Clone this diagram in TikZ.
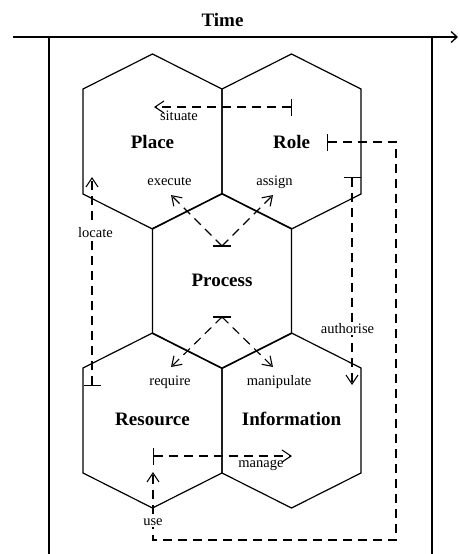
\documentclass[tikz,border=0pt]{standalone}
\usepackage{fontspec}
\setmainfont{Liberation Serif}
\usetikzlibrary{arrows.meta}
\tikzset{
  cellname/.style={font=\fontsize{19}{22}\selectfont\bfseries, anchor=base, inner sep=0pt},
  linkname/.style={font=\fontsize{14.5}{17}\selectfont, anchor=base, inner sep=1.5pt},
  cutname/.style={linkname, fill=white},
  link/.style={line width=1.1pt, dash pattern=on 9pt off 6pt,
    -{Straight Barb[length=9pt,width=12pt]}},
  barlink/.style={link, {Bar[width=17pt]}-{Straight Barb[length=9pt,width=12pt]}},
  frame/.style={line width=1.8pt},
  cell/.style={line width=1.2pt}
}
\begin{document}
\begin{tikzpicture}[x=1pt, y=-1pt]
  \useasboundingbox (0,0) rectangle (459,554);

  % time axis and frame
  \node[cellname] (time) at (222.5,27) {Time};
  \draw[frame, -{Straight Barb[length=6pt,width=11pt,line width=1.3pt]}] (13,37) -- (458,37);
  \draw[frame] (49,37) -- (49,554);
  \draw[frame] (432,37) -- (432,554);

  % hexagon cells
  \foreach \x/\y in {152.5/141.5, 291.5/141.5, 222/281, 152.5/420.5, 291.5/420.5}
    \draw[cell] (\x,\y-87.5) -- (\x+69.5,\y-52.5) -- (\x+69.5,\y+52.5)
      -- (\x,\y+87.5) -- (\x-69.5,\y+52.5) -- (\x-69.5,\y-52.5) -- cycle;

  \node[cellname] (place) at (152.5,148) {Place};
  \node[cellname] (role) at (291.5,148) {Role};
  \node[cellname] (process) at (222,286.7) {Process};
  \node[cellname] (resource) at (152.5,425.7) {Resource};
  \node[cellname] (information) at (291.5,425.7) {Information};

  % link ends
  \coordinate (situate-s) at (292,107);
  \coordinate (situate-e) at (154,107);
  \coordinate (plan-s) at (222,246);
  \coordinate (execute-e) at (171,195);
  \coordinate (assign-e) at (273,195);
  \coordinate (need-s) at (222,317);
  \coordinate (require-e) at (171,367);
  \coordinate (manipulate-e) at (273,367);
  \coordinate (locate-s) at (92,386);
  \coordinate (locate-e) at (92,177);
  \coordinate (authorise-s) at (352,177);
  \coordinate (authorise-e) at (352,385);
  \coordinate (manage-s) at (153,456);
  \coordinate (manage-e) at (292,456);
  \coordinate (use-s) at (327,142);
  \coordinate (use-corner) at (396,540);
  \coordinate (use-e) at (153,472);

  % links
  \draw[barlink] (situate-s) -- (situate-e);
  \draw[link] (plan-s) -- (execute-e);
  \draw[link] (plan-s) -- (assign-e);
  \draw[line width=1.1pt] ([xshift=-9pt]plan-s) -- ([xshift=9pt]plan-s);
  \draw[link] (need-s) -- (require-e);
  \draw[link] (need-s) -- (manipulate-e);
  \draw[line width=1.1pt] ([xshift=-9pt]need-s) -- ([xshift=9pt]need-s);
  \draw[barlink] (locate-s) -- (locate-e);
  \draw[barlink] (authorise-s) -- (authorise-e);
  \draw[barlink] (manage-s) -- (manage-e);
  \draw[barlink] (use-s) -| (use-corner) -| (use-e);

  % link names
  \node[linkname] (situate) at (179,120.7) {situate};
  \node[linkname] (execute) at (169.5,185.7) {execute};
  \node[linkname] (assign) at (274.5,185.7) {assign};
  \node[cutname] (locate) at (95.5,237.7) {locate};
  \node[cutname] (authorise) at (347.5,333.3) {authorise};
  \node[linkname] (require) at (170,385.7) {require};
  \node[linkname] (manipulate) at (279,385.7) {manipulate};
  \node[linkname] (manage) at (261,467.3) {manage};
  \node[cutname] (use) at (153,525.7) {use};

\end{tikzpicture}
\end{document}
